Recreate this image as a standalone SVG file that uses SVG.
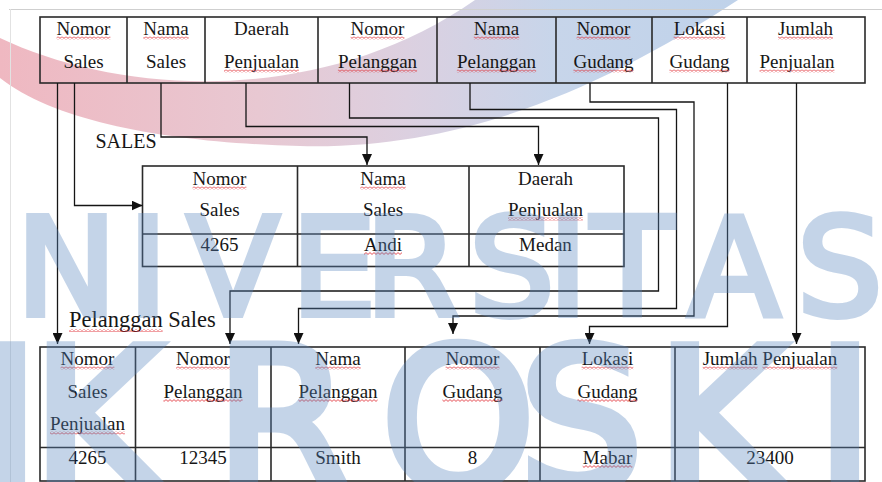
<svg xmlns="http://www.w3.org/2000/svg" width="882" height="482" viewBox="0 0 882 482">
<style>
.t{font-family:"Liberation Serif","Times New Roman",serif;font-size:19px;fill:#161616;text-anchor:middle}
.lbl{font-family:"Liberation Serif","Times New Roman",serif;fill:#161616}
.tb{fill:none;stroke:#2a2a2a;stroke-width:1.6}
.cn{fill:none;stroke:#151515;stroke-width:1.3}
.u{fill:url(#wv)}
.wm{font-family:"DejaVu Sans",sans-serif;fill:#5987c0;stroke:#5987c0;stroke-linejoin:miter}
</style>
<defs>
<pattern id="wv" x="0" y="0" width="4" height="3" patternUnits="userSpaceOnUse">
<path d="M0,2.4 L2,0.6 L4,2.4" fill="none" stroke="#e0242c" stroke-width="0.8"/>
</pattern>
<marker id="ah" viewBox="0 0 11 10" refX="11" refY="5" markerWidth="11" markerHeight="10" markerUnits="userSpaceOnUse" orient="auto">
<path d="M0,0 L11,5 L0,10 z" fill="#111"/>
</marker>
<linearGradient id="band" x1="0" y1="0" x2="740" y2="0" gradientUnits="userSpaceOnUse">
<stop offset="0" stop-color="#efb8c1"/>
<stop offset="0.35" stop-color="#e8c8d2"/>
<stop offset="0.55" stop-color="#dcd0e0"/>
<stop offset="0.75" stop-color="#c7d5ea"/>
<stop offset="1" stop-color="#bfd2ea"/>
</linearGradient>
</defs>
<rect width="882" height="482" fill="#fff"/>
<g id="background">
<path d="M0,38 C120,95 320,108 475,0 L738,0 C600,90 460,150 300,146 C180,143 60,125 0,78 Z" fill="url(#band)"/>
<path d="M9,9.5 H882" stroke="#cfcfcf" stroke-width="1"/>
<path d="M10.5,9 V482" stroke="#e2e2e2" stroke-width="1"/>
</g>

<g id="source-table">
<rect class="tb" x="40" y="17" width="825" height="66"/>
<path class="tb" d="M127,17V83M205,17V83M318,17V83M437,17V83M556,17V83M652,17V83M747,17V83"/>
<text class="t" x="83.5" y="35">Nomor</text><text class="t" x="83.5" y="68">Sales</text>
<text class="t" x="166" y="35">Nama</text><text class="t" x="166" y="68">Sales</text>
<text class="t" x="261.5" y="35">Daerah</text><text class="t" x="261.5" y="68">Penjualan</text>
<text class="t" x="377.5" y="35">Nomor</text><text class="t" x="377.5" y="68">Pelanggan</text>
<text class="t" x="496.5" y="35">Nama</text><text class="t" x="496.5" y="68">Pelanggan</text>
<text class="t" x="603.5" y="35">Nomor</text><text class="t" x="603.5" y="68">Gudang</text>
<text class="t" x="699.5" y="35">Lokasi</text><text class="t" x="699.5" y="68">Gudang</text>
<text class="t" x="805.5" y="35">Jumlah</text><text class="t" x="797" y="68">Penjualan</text>
<rect class="u" x="56.6" y="36.5" width="53.8" height="3"/>
<rect class="u" x="143.3" y="36.5" width="45.4" height="3"/>
<rect class="u" x="350.6" y="36.5" width="53.8" height="3"/>
<rect class="u" x="473.8" y="36.5" width="45.4" height="3"/>
<rect class="u" x="576.6" y="36.5" width="53.8" height="3"/>
<rect class="u" x="673.6" y="36.5" width="51.7" height="3"/>
<rect class="u" x="778" y="36.5" width="54.9" height="3"/>
<rect class="u" x="224" y="69.5" width="74.9" height="3"/>
<rect class="u" x="337.9" y="69.5" width="79.2" height="3"/>
<rect class="u" x="456.9" y="69.5" width="79.2" height="3"/>
<rect class="u" x="573.4" y="69.5" width="60.2" height="3"/>
<rect class="u" x="669.4" y="69.5" width="60.2" height="3"/>
<rect class="u" x="759.5" y="69.5" width="74.9" height="3"/>
</g>

<g id="sales-table">
<text class="lbl" x="95.5" y="148" font-size="20">SALES</text>
<rect class="tb" x="142.5" y="166" width="481.5" height="100.5"/>
<path class="tb" d="M142.5,234H624M297.5,166V266.5M469,166V266.5"/>
<text class="t" x="219.5" y="185">Nomor</text><text class="t" x="219.5" y="216">Sales</text><text class="t" x="219.5" y="250.5">4265</text>
<text class="t" x="383" y="185">Nama</text><text class="t" x="383" y="216">Sales</text><text class="t" x="383" y="250.5">Andi</text>
<text class="t" x="545.5" y="185">Daerah</text><text class="t" x="545.5" y="216">Penjualan</text><text class="t" x="545.5" y="250.5">Medan</text>
<rect class="u" x="192.6" y="186.5" width="53.8" height="3"/>
<rect class="u" x="360.3" y="186.5" width="45.4" height="3"/>
<rect class="u" x="508" y="217.5" width="74.9" height="3"/>
<rect class="u" x="364" y="252" width="38" height="3"/>
</g>

<g id="pelanggan-sales-table">
<text class="lbl" x="69" y="327" font-size="22.5">Pelanggan Sales</text>
<rect class="u" x="69" y="329" width="93.7" height="3"/>
<rect class="tb" x="40" y="347" width="825" height="134"/>
<path class="tb" d="M40,447.5H865M135.5,347V481M271,347V481M405,347V481M540,347V481M675,347V481"/>
<text class="t" x="87.5" y="365">Nomor</text><text class="t" x="87.5" y="397.5">Sales</text><text class="t" x="87.5" y="430">Penjualan</text><text class="t" x="87.5" y="463.5">4265</text>
<text class="t" x="203" y="365">Nomor</text><text class="t" x="203" y="397.5">Pelanggan</text><text class="t" x="203" y="463.5">12345</text>
<text class="t" x="338" y="365">Nama</text><text class="t" x="338" y="397.5">Pelanggan</text><text class="t" x="338" y="463.5">Smith</text>
<text class="t" x="472.5" y="365">Nomor</text><text class="t" x="472.5" y="397.5">Gudang</text><text class="t" x="472.5" y="463.5">8</text>
<text class="t" x="607.5" y="365">Lokasi</text><text class="t" x="607.5" y="397.5">Gudang</text><text class="t" x="607.5" y="463.5">Mabar</text>
<text class="t" x="770" y="365">Jumlah Penjualan</text><text class="t" x="770" y="463.5">23400</text>
<rect class="u" x="60.6" y="366.5" width="53.8" height="3"/>
<rect class="u" x="176.1" y="366.5" width="53.8" height="3"/>
<rect class="u" x="315.3" y="366.5" width="45.4" height="3"/>
<rect class="u" x="445.6" y="366.5" width="53.8" height="3"/>
<rect class="u" x="581.6" y="366.5" width="51.7" height="3"/>
<rect class="u" x="702.7" y="366.5" width="54.9" height="3"/>
<rect class="u" x="762.4" y="366.5" width="74.9" height="3"/>
<rect class="u" x="163.4" y="399" width="79.2" height="3"/>
<rect class="u" x="298.4" y="399" width="79.2" height="3"/>
<rect class="u" x="442.4" y="399" width="60.2" height="3"/>
<rect class="u" x="577.4" y="399" width="60.2" height="3"/>
<rect class="u" x="50" y="431.5" width="74.9" height="3"/>
<rect class="u" x="582.7" y="465" width="49.6" height="3"/>
</g>

<g id="connectors">
<path class="cn" marker-end="url(#ah)" d="M57.5,83V344"/>
<path class="cn" marker-end="url(#ah)" d="M74.5,83V205.5H142.5"/>
<path class="cn" marker-end="url(#ah)" d="M161,83V137H367V165"/>
<path class="cn" marker-end="url(#ah)" d="M246,83V126.5H538.5V165"/>
<path class="cn" marker-end="url(#ah)" d="M349.5,83V118H658.5V291H230V344"/>
<path class="cn" marker-end="url(#ah)" d="M470,83V109.5H676.5V308.5H298.5V344"/>
<path class="cn" marker-end="url(#ah)" d="M590,83V102H694V316H453V334"/>
<path class="cn" marker-end="url(#ah)" d="M727.5,83V326.5H589.5V344"/>
<path class="cn" marker-end="url(#ah)" d="M796.5,83V344"/>
</g>

<g id="watermark" opacity="0.35">
<text class="wm" font-size="135" stroke-width="6" y="315" x="16 128 187 291 365 469 548 591 688 797">NIVERSITAS</text>
<text class="wm" font-size="196" stroke-width="9" y="489" x="-18 32 215 381 519 656 816">IKROSKI</text>
</g>
</svg>
